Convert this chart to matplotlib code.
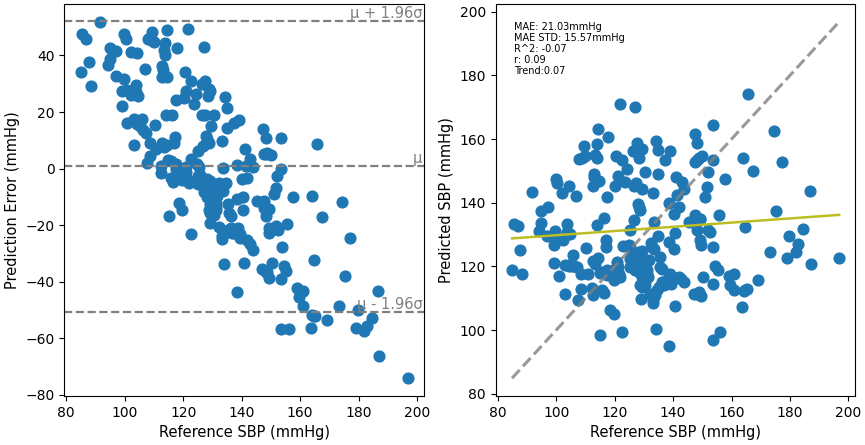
import numpy as np
import matplotlib
matplotlib.use("Agg")
import matplotlib.pyplot as plt

# reference / predicted SBP (mmHg)
ref = [84.9, 85.5, 86.8, 87.7, 88.4, 91.6, 94.2, 94.8, 94.9, 97.1,
       96.9, 99.1, 99.1, 99.6, 99.8, 100.3, 100.9, 100.7, 102.1, 102.3,
       103.1, 103.2, 104.3, 103.7, 104.3, 103.7, 104.6, 105.3, 105.8, 106.9,
       107.1, 107.5, 107.8, 108.9, 108.5, 108.5, 109.4, 110.0, 110.3, 110.8,
       112.5, 112.6, 112.8, 113.0, 112.6, 113.3, 113.9, 113.9, 114.4, 114.0,
       114.3, 114.5, 115.1, 114.9, 115.7, 115.7, 116.5, 116.2, 117.1, 117.0,
       117.4, 117.5, 117.7, 118.5, 119.7, 119.1, 119.7, 120.2, 120.5, 120.8,
       121.1, 121.1, 121.7, 121.9, 122.5, 122.5, 122.8, 123.6, 124.2, 125.1,
       125.1, 125.1, 125.4, 125.9, 126.3, 126.5, 126.7, 127.1, 127.3, 127.6,
       127.9, 128.2, 127.9, 128.4, 128.8, 129.0, 128.2, 128.5, 128.8, 129.3,
       128.8, 129.0, 128.8, 129.3, 129.3, 129.9, 129.5, 130.5, 130.5, 131.1,
       131.3, 131.7, 132.2, 133.1, 133.3, 132.4, 132.8, 133.6, 133.3, 133.6,
       134.0, 134.2, 135.0, 134.5, 135.2, 134.7, 134.8, 135.4, 135.6, 136.2,
       136.8, 137.3, 137.9, 138.5, 138.5, 138.5, 139.0, 138.8, 139.3, 139.3,
       140.2, 140.4, 140.5, 140.7, 141.1, 141.3, 141.9, 141.9, 142.7, 143.0,
       143.8, 143.8, 145.3, 147.0, 147.4, 148.2, 147.6, 147.6, 148.2, 147.6,
       148.2, 148.7, 149.9, 149.3, 149.5, 149.1, 148.2, 149.5, 150.2, 151.0,
       151.6, 152.1, 151.8, 152.5, 153.6, 153.6, 153.8, 153.6, 153.6, 154.4,
       155.2, 155.6, 156.1, 157.6, 159.0, 159.5, 160.9, 160.9, 163.6, 163.9,
       164.1, 164.7, 165.2, 164.7, 165.6, 167.3, 169.2, 173.2, 174.4, 175.3,
       177.2, 179.1, 179.7, 182.0, 182.7, 184.6, 186.7, 187.1, 196.8,
       106.2, 105.0, 113.4, 117.4, 112.3, 120.2, 121.4, 124.8, 127.1, 128.2,
       136.2, 127.1, 129.9, 130.5, 129.3, 131.1, 133.9, 137.3, 149.3, 148.7]
pred = [119.0, 133.2, 132.6, 125.3, 117.6, 143.5, 131.0, 137.3, 133.7, 138.7,
        129.7, 126.6, 121.1, 131.2, 147.5, 146.3, 117.1, 128.6, 143.2, 128.2,
        111.5, 120.6, 120.2, 133.4, 145.3, 130.8, 130.3, 120.2, 123.5, 142.0,
        119.8, 109.6, 153.7, 154.2, 113.0, 117.7, 157.7, 154.8, 125.8, 117.7,
        111.0, 145.1, 149.0, 148.0, 121.7, 155.1, 154.2, 158.4, 163.3, 132.9,
        122.7, 146.9, 98.5, 118.0, 118.3, 112.5, 111.7, 135.3, 128.2, 126.1,
        119.0, 141.9, 160.5, 106.3, 105.2, 117.2, 115.7, 145.1, 154.8, 121.4,
        119.8, 148.5, 170.9, 116.7, 99.5, 153.4, 126.3, 146.4, 150.6, 119.8,
        122.4, 131.3, 126.1, 123.5, 156.3, 145.4, 134.6, 170.1, 146.1, 158.6,
        139.6, 138.6, 122.5, 120.5, 123.5, 121.5, 118.3, 154.2, 157.0, 156.8,
        137.8, 109.9, 114.1, 116.7, 125.0, 120.9, 144.4, 149.5, 115.7, 119.0,
        116.7, 121.9, 111.5, 109.4, 108.4, 127.3, 126.1, 125.6, 143.0, 133.9,
        100.2, 159.4, 156.5, 112.5, 113.6, 129.7, 149.0, 123.0, 119.8, 115.1,
        114.1, 153.4, 115.7, 95.0, 127.6, 139.8, 156.3, 117.7, 116.2, 114.6,
        136.5, 125.6, 130.5, 107.5, 148.0, 142.3, 138.6, 116.7, 115.9, 146.4,
        144.3, 115.1, 133.9, 111.5, 161.5, 158.9, 136.0, 133.6, 131.3, 152.7,
        153.4, 154.2, 154.8, 128.2, 126.8, 135.0, 111.5, 110.7, 116.7, 141.9,
        144.8, 149.5, 131.5, 130.8, 153.4, 164.4, 126.1, 114.6, 96.9, 120.0,
        119.0, 136.0, 99.3, 147.5, 116.9, 114.1, 117.7, 112.5, 107.3, 154.2,
        112.3, 112.5, 113.0, 132.3, 174.2, 150.1, 115.7, 124.5, 162.6, 137.3,
        152.7, 122.7, 129.7, 124.5, 127.1, 131.8, 143.6, 120.7, 122.7,
        120.0, 120.8, 120.9, 117.2, 113.1, 119.3, 117.7, 126.6, 123.0, 124.5,
        119.3, 118.8, 115.7, 114.1, 113.6, 117.7, 111.0, 114.6, 135.0, 112.0]

# Bland-Altman lines
mean_err = 0.8
upper_loa = 52.2
lower_loa = -50.6

# trend line on the right panel
trend_slope = 0.066
trend_icpt = 123.2

stats_text = "MAE: 21.03mmHg\nMAE STD: 15.57mmHg\nR^2: -0.07\nr: 0.09\nTrend:0.07"

ref = np.array(ref)
pred = np.array(pred)
err = pred - ref

fig = plt.figure(figsize=(8.65, 4.45), dpi=100)
ax1 = fig.add_axes([0.0743, 0.110, 0.416, 0.881])
ax2 = fig.add_axes([0.573, 0.110, 0.416, 0.881])

# left: error vs reference
ax1.scatter(ref, err, s=60, color="#1f77b4")
for yv in (upper_loa, mean_err, lower_loa):
    ax1.axhline(yv, color="gray", linestyle="--", linewidth=1.6)
ax1.text(0.995, upper_loa, "μ + 1.96σ", color="gray", fontsize=10.5,
         ha="right", va="bottom", transform=ax1.get_yaxis_transform())
ax1.text(0.995, mean_err, "μ", color="gray", fontsize=10.5,
         ha="right", va="bottom", transform=ax1.get_yaxis_transform())
ax1.text(0.995, lower_loa, "μ - 1.96σ", color="gray", fontsize=10.5,
         ha="right", va="bottom", transform=ax1.get_yaxis_transform())
ax1.set_xlabel("Reference SBP (mmHg)", fontsize=10.5)
ax1.set_ylabel("Prediction Error (mmHg)", fontsize=10.5)
ax1.tick_params(labelsize=10)

# right: predicted vs reference
ax2.scatter(ref, pred, s=60, color="#1f77b4")
lo, hi = ref.min(), ref.max()
ax2.plot([lo, hi], [lo, hi], color="gray", linestyle="--", linewidth=2.2, alpha=0.8)
xs = np.array([lo, hi])
ax2.plot(xs, trend_slope * xs + trend_icpt, color="#bcbd22", linewidth=1.8)
ax2.text(0.05, 0.953, stats_text, transform=ax2.transAxes, fontsize=7,
         va="top", ha="left", linespacing=1.1)
ax2.set_xlabel("Reference SBP (mmHg)", fontsize=10.5)
ax2.set_ylabel("Predicted SBP (mmHg)", fontsize=10.5)
ax2.tick_params(labelsize=10)

fig.savefig("out.png", dpi=100)
